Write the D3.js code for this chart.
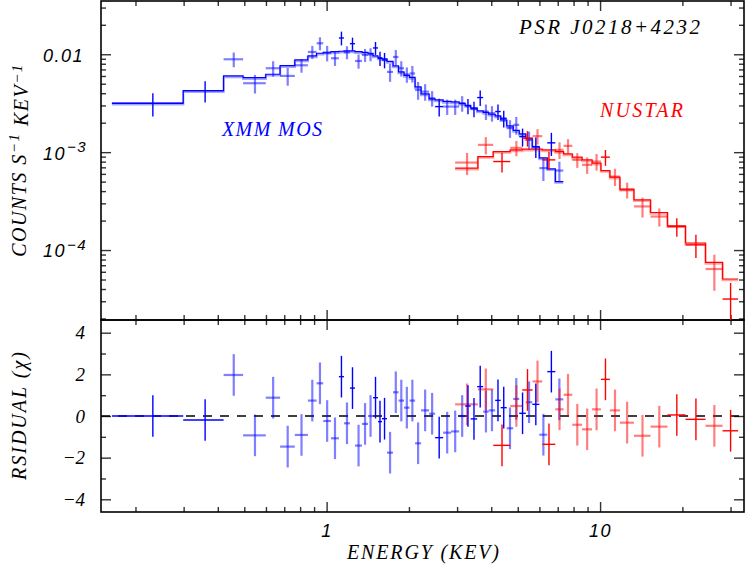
<!DOCTYPE html>
<html><head><meta charset="utf-8">
<script src="https://cdn.jsdelivr.net/npm/d3@7"></script>
<style>body{margin:0;background:#fff}svg{display:block}</style>
</head><body>
<script>
// ---------------- DATA ----------------
// XMM MOS1 (dark blue): [E_lo, E_hi, rate, sigma, residual]
const mos1 = [
  [0.164,0.299,3.16e-3,8.4e-4,0.00],
  [0.299,0.420,4.25e-3,1.04e-3,-0.19],
  [1.109,1.157,0.01467,2.35e-3,1.89],
  [1.217,1.270,0.01283,1.95e-3,1.34],
  [1.478,1.541,0.0116,1.76e-3,0.88],
  [1.541,1.594,9.10e-3,1.5e-3,-0.27],
  [1.594,1.663,8.75e-3,1.57e-3,-0.13],
  [2.493,2.667,2.92e-3,6.0e-4,-1.04],
  [3.211,3.364,2.97e-3,5.3e-4,0.48],
  [3.364,3.553,2.77e-3,5.0e-4,-0.14],
  [3.553,3.737,3.61e-3,6.5e-4,1.41],
  [4.135,4.331,2.60e-3,4.7e-4,0.75],
  [4.331,4.556,2.22e-3,4.3e-4,0.40],
  [5.063,5.349,1.44e-3,3.0e-4,0.13],
  [5.649,5.995,1.14e-3,2.7e-4,0.56],
  [6.412,6.861,1.245e-3,3.3e-4,2.13]
];
// XMM MOS2 (light blue)
const mos2 = [
  [0.420,0.495,8.89e-3,1.52e-3,1.97],
  [0.495,0.599,5.06e-3,1.09e-3,-0.93],
  [0.599,0.676,7.20e-3,1.29e-3,0.88],
  [0.676,0.765,6.01e-3,1.24e-3,-1.47],
  [0.765,0.854,7.72e-3,1.24e-3,-0.91],
  [0.854,0.919,0.01056,1.6e-3,0.74],
  [0.919,0.972,0.01295,1.97e-3,1.57],
  [0.972,1.037,0.01031,1.85e-3,-0.24],
  [1.037,1.109,9.10e-3,1.5e-3,-1.07],
  [1.157,1.217,0.01048,1.59e-3,-0.35],
  [1.270,1.347,8.54e-3,1.41e-3,-1.42],
  [1.347,1.417,9.84e-3,1.5e-3,-0.38],
  [1.417,1.478,0.0100,1.52e-3,0.00],
  [1.663,1.749,6.60e-3,1.37e-3,-1.76],
  [1.749,1.832,9.38e-3,1.68e-3,1.14],
  [1.832,1.919,7.20e-3,1.29e-3,0.74],
  [1.919,2.011,6.22e-3,1.11e-3,0.40],
  [2.011,2.106,6.37e-3,1.23e-3,0.74],
  [2.106,2.215,4.32e-3,8.9e-4,-1.31],
  [2.215,2.370,4.15e-3,8.0e-4,0.27],
  [2.370,2.493,3.56e-3,6.4e-4,0.11],
  [2.667,2.853,2.92e-3,5.2e-4,-0.80],
  [2.853,3.052,2.92e-3,5.2e-4,-0.74],
  [3.052,3.211,3.16e-3,5.7e-4,0.00],
  [3.737,3.914,2.60e-3,4.7e-4,0.21],
  [3.914,4.135,2.50e-3,4.5e-4,0.27],
  [4.556,4.813,1.76e-3,3.6e-4,-0.59],
  [4.813,5.063,1.90e-3,3.9e-4,0.82],
  [5.349,5.649,1.34e-3,2.8e-4,0.66],
  [5.995,6.412,6.87e-4,1.8e-4,-0.90],
  [6.861,7.337,6.49e-4,1.5e-4,0.80]
];
// XMM model (step)
const xmmModelEdges = [0.164,0.299,0.420,0.495,0.599,0.676,0.765,0.854,0.919,0.972,1.037,1.109,1.157,1.217,1.270,1.347,1.417,1.478,1.541,1.594,1.663,1.749,1.832,1.919,2.011,2.106,2.215,2.370,2.493,2.667,2.853,3.052,3.211,3.364,3.553,3.737,3.914,4.135,4.331,4.556,4.813,5.063,5.349,5.649,5.995,6.412,6.861,7.337];
const xmmModelRates = [3.16e-3,4.25e-3,6.01e-3,5.77e-3,6.25e-3,7.65e-3,8.75e-3,9.61e-3,0.01024,0.01048,0.01063,0.01073,0.01081,0.01081,0.01063,0.01043,0.01024,9.61e-3,9.17e-3,8.96e-3,8.44e-3,7.60e-3,6.60e-3,6.08e-3,5.80e-3,4.64e-3,3.93e-3,3.50e-3,3.42e-3,3.30e-3,3.26e-3,3.15e-3,3.00e-3,2.83e-3,2.64e-3,2.55e-3,2.44e-3,2.35e-3,2.14e-3,1.855e-3,1.67e-3,1.54e-3,1.38e-3,1.13e-3,8.74e-4,6.76e-4,5.01e-4];

// NuSTAR FPMA (dark red)
const fpmA = [
  [4.067,4.692,8.02e-4,1.84e-4,-1.41],
  [5.192,5.664,1.39e-3,2.49e-4,1.25],
  [6.146,6.861,8.34e-4,1.73e-4,-1.36],
  [10.07,10.86,8.89e-4,1.64e-4,1.76],
  [17.64,20.53,1.74e-4,3.7e-5,0.05],
  [20.53,24.30,1.13e-4,3.0e-5,-0.16],
  [28.05,31.97,3.16e-5,1.45e-5,-0.71]
];
// NuSTAR FPMB (light red)
const fpmB = [
  [2.951,3.574,7.83e-4,2.0e-4,0.56],
  [3.574,4.067,1.187e-3,2.39e-4,1.28],
  [4.692,5.192,1.106e-3,1.98e-4,0.48],
  [5.664,6.146,1.457e-3,2.61e-4,1.66],
  [6.861,7.355,1.055e-3,2.04e-4,0.32],
  [7.355,7.914,1.159e-3,1.98e-4,1.02],
  [7.914,8.594,8.34e-4,1.43e-4,-0.42],
  [8.594,9.348,7.42e-4,1.43e-4,-0.64],
  [9.348,10.07,8.02e-4,1.55e-4,0.32],
  [10.86,11.82,5.64e-4,1.13e-4,0.27],
  [11.82,13.30,4.12e-4,7.6e-5,-0.32],
  [13.30,15.29,2.79e-4,6.4e-5,-0.95],
  [15.29,17.64,2.20e-4,4.6e-5,-0.51],
  [24.30,28.05,6.40e-5,2.56e-5,-0.47]
];
// NuSTAR model (step)
const nuModelEdges = [2.951,3.574,4.067,4.692,5.192,5.664,6.146,6.861,7.355,7.914,8.594,9.348,10.07,10.86,11.82,13.30,15.29,17.64,20.53,24.30,28.05,31.97];
const nuModelRates = [6.87e-4,9.02e-4,1.014e-3,1.055e-3,1.073e-3,1.073e-3,1.055e-3,1.014e-3,9.61e-4,8.89e-4,8.34e-4,7.72e-4,6.49e-4,5.56e-4,4.19e-4,3.26e-4,2.42e-4,1.77e-4,1.18e-4,7.47e-5,5.06e-5];

// axes / tick labels
const energyTicks = [1,10];
const energyTickLabels = ["1","10"];
const countTicks = [1e-4,1e-3,1e-2];
const countTickBase = ["10","10","0.01"];
const countTickExp = ["\u22124","\u22123",""];
const residTicks = [-4,-2,0,2,4];
const residTickLabels = ["\u22124","\u22122","0","2","4"];
const residMinor = [-3,-1,1,3];

// ---------------- LAYOUT ----------------
const W=747,H=567, L=101, R=744, T=1, MID=320, B=512;
const sans="'Liberation Sans', Arial, sans-serif";
const serif="'Liberation Serif', 'Times New Roman', serif";
const BLUE="#0000ff", RED="#ff0000";

const svg=d3.select("body").append("svg").attr("width",W).attr("height",H);
const x=d3.scaleLog().domain([0.1496,33.6]).range([L,R]);
const y=d3.scaleLog().domain([1.93e-5,0.035]).range([MID,T]);
const yr=d3.scaleLinear().domain([-4.61,4.61]).range([B,MID]);

const defs=svg.append("defs");
defs.append("clipPath").attr("id","cTop").append("rect").attr("x",L).attr("y",T).attr("width",R-L).attr("height",MID-T);
defs.append("clipPath").attr("id","cBot").append("rect").attr("x",L).attr("y",MID).attr("width",R-L).attr("height",B-MID);

// minor tick generators
const xMinor=[];
[0.1,1,10].forEach(d=>{for(let k=2;k<=9;k++){const t=k*d;if(t>=x.domain()[0]&&t<=x.domain()[1])xMinor.push(t);}});
const yMinor=[];
[1e-5,1e-4,1e-3,1e-2].forEach(d=>{for(let k=2;k<=9;k++){const t=k*d;if(t>=y.domain()[0]&&t<=y.domain()[1])yMinor.push(t);}});

function tickGroup(axis, tx, ty){
  const g=svg.append("g").attr("transform",`translate(${tx},${ty})`).call(axis);
  g.select(".domain").remove();
  g.selectAll("text").remove();
  g.selectAll("line").attr("stroke","#333").attr("stroke-width",1.4);
  return g;
}
// x ticks on all four horizontal edges
[[d3.axisBottom,T],[d3.axisTop,MID],[d3.axisBottom,MID],[d3.axisTop,B]].forEach(([f,yy])=>{
  tickGroup(f(x).tickValues(energyTicks).tickSize(10),0,yy);
  tickGroup(f(x).tickValues(xMinor).tickSize(5),0,yy);
});
// y ticks, top panel
tickGroup(d3.axisRight(y).tickValues(countTicks).tickSize(10),L,0);
tickGroup(d3.axisRight(y).tickValues(yMinor).tickSize(5),L,0);
tickGroup(d3.axisLeft(y).tickValues(countTicks).tickSize(10),R,0);
tickGroup(d3.axisLeft(y).tickValues(yMinor).tickSize(5),R,0);
// y ticks, residual panel
tickGroup(d3.axisRight(yr).tickValues(residTicks).tickSize(10),L,0);
tickGroup(d3.axisRight(yr).tickValues(residMinor).tickSize(5),L,0);
tickGroup(d3.axisLeft(yr).tickValues(residTicks).tickSize(10),R,0);
tickGroup(d3.axisLeft(yr).tickValues(residMinor).tickSize(5),R,0);

// frames
svg.append("rect").attr("x",L).attr("y",T).attr("width",R-L).attr("height",MID-T).attr("fill","none").attr("stroke","#000").attr("stroke-width",1.6);
svg.append("rect").attr("x",L).attr("y",MID).attr("width",R-L).attr("height",B-MID).attr("fill","none").attr("stroke","#000").attr("stroke-width",1.6);

// x tick labels
const xl=svg.append("g").attr("transform",`translate(0,${B})`)
  .call(d3.axisBottom(x).tickValues(energyTicks).tickSize(0).tickPadding(12).tickFormat((d,i)=>energyTickLabels[i]));
xl.select(".domain").remove();
xl.selectAll("text").attr("font-family",sans).attr("font-style","italic").attr("font-size",18).attr("fill","#000").attr("letter-spacing",1.5);

// count tick labels
const yl=svg.append("g").attr("transform",`translate(${L},0)`)
  .call(d3.axisLeft(y).tickValues(countTicks).tickSize(0).tickFormat(""));
yl.select(".domain").remove();
yl.selectAll(".tick").each(function(d,i){
  const t=d3.select(this).select("text").text(null)
    .attr("x",-58).attr("dy","0.38em").attr("text-anchor","start")
    .attr("font-family",sans).attr("font-style","italic").attr("font-size",18).attr("fill","#000").attr("letter-spacing",1.5);
  t.append("tspan").text(countTickBase[i]);
  if(countTickExp[i]) t.append("tspan").attr("dy","-0.5em").attr("dx",1).attr("font-size",15).text(countTickExp[i]);
});

// residual tick labels
const rl=svg.append("g").attr("transform",`translate(${L},0)`)
  .call(d3.axisLeft(yr).tickValues(residTicks).tickSize(0).tickPadding(16).tickFormat((d,i)=>residTickLabels[i]));
rl.select(".domain").remove();
rl.selectAll("text").attr("font-family",serif).attr("font-style","italic").attr("font-size",19).attr("fill","#000");

// ---------------- MARKS ----------------
const topG=svg.append("g").attr("clip-path","url(#cTop)");
const botG=svg.append("g").attr("clip-path","url(#cBot)");

// zero line
botG.append("line").attr("x1",L).attr("x2",R).attr("y1",yr(0)).attr("y2",yr(0))
  .attr("stroke","#000").attr("stroke-width",1.4).attr("stroke-dasharray","9,8");

function drawData(data,color,width,op){
  const g=topG.append("g").attr("stroke",color).attr("stroke-width",width).attr("stroke-opacity",op);
  g.selectAll("line.h").data(data).join("line").attr("class","h")
    .attr("x1",d=>x(d[0])).attr("x2",d=>x(d[1])).attr("y1",d=>y(d[2])).attr("y2",d=>y(d[2]));
  g.selectAll("line.v").data(data).join("line").attr("class","v")
    .attr("x1",d=>x((d[0]+d[1])/2)).attr("x2",d=>x((d[0]+d[1])/2))
    .attr("y1",d=>y(Math.max(d[2]-d[3],1e-7))).attr("y2",d=>y(d[2]+d[3]));
  const h=botG.append("g").attr("stroke",color).attr("stroke-width",width).attr("stroke-opacity",op);
  h.selectAll("line.h").data(data).join("line").attr("class","h")
    .attr("x1",d=>x(d[0])).attr("x2",d=>x(d[1])).attr("y1",d=>yr(d[4])).attr("y2",d=>yr(d[4]));
  h.selectAll("line.v").data(data).join("line").attr("class","v")
    .attr("x1",d=>x((d[0]+d[1])/2)).attr("x2",d=>x((d[0]+d[1])/2))
    .attr("y1",d=>yr(d[4]-1)).attr("y2",d=>yr(d[4]+1));
}
function drawModel(edges,rates,color){
  const pts=edges.map((e,i)=>[e,rates[Math.min(i,rates.length-1)]]);
  const line=d3.line().x(d=>x(d[0])).y(d=>y(d[1])).curve(d3.curveStepAfter);
  topG.append("path").attr("d",line(pts)).attr("fill","none").attr("stroke",color).attr("stroke-opacity",0.35)
    .attr("stroke-width",2.2).attr("transform","translate(0,1.2)");
  topG.append("path").attr("d",line(pts)).attr("fill","none").attr("stroke",color).attr("stroke-width",1.2);
}

drawData(mos2,BLUE,2.2,0.5);
drawData(fpmB,RED,2.2,0.5);
drawModel(xmmModelEdges,xmmModelRates,BLUE);
drawModel(nuModelEdges,nuModelRates,RED);
drawData(mos1,BLUE,1.4,1);
drawData(fpmA,RED,1.4,1);

// ---------------- TEXT ----------------
function txt(s,xx,yy,size,color,len){
  const t=svg.append("text").attr("x",xx).attr("y",yy).attr("font-family",serif).attr("font-style","italic")
    .attr("font-size",size).attr("fill",color).text(s);
  if(len) t.attr("textLength",len).attr("lengthAdjust","spacing");
  return t;
}
txt("PSR J0218+4232",519,34,21,"#000",181);
txt("XMM MOS",222,136,20,BLUE,100);
txt("NUSTAR",600,117,20,RED,83);
txt("ENERGY (KEV)",347,559,20,"#000",152);

// y axis titles (rotated)
const yt=svg.append("text").attr("transform","translate(26,160) rotate(-90)").attr("text-anchor","middle")
  .attr("font-family",serif).attr("font-style","italic").attr("font-size",20).attr("fill","#000").attr("letter-spacing",1.5);
yt.append("tspan").text("COUNTS S");
yt.append("tspan").attr("dy","-0.45em").attr("font-size",15).text("\u22121");
yt.append("tspan").attr("dy","0.45em").text(" KEV");
yt.append("tspan").attr("dy","-0.45em").attr("font-size",15).text("\u22121");

svg.append("text").attr("transform","translate(26,416) rotate(-90)").attr("text-anchor","middle")
  .attr("font-family",serif).attr("font-style","italic").attr("font-size",20).attr("fill","#000")
  .attr("textLength",128).attr("lengthAdjust","spacing").text("RSIDUAL (\u03c7)");
</script>
</body></html>
